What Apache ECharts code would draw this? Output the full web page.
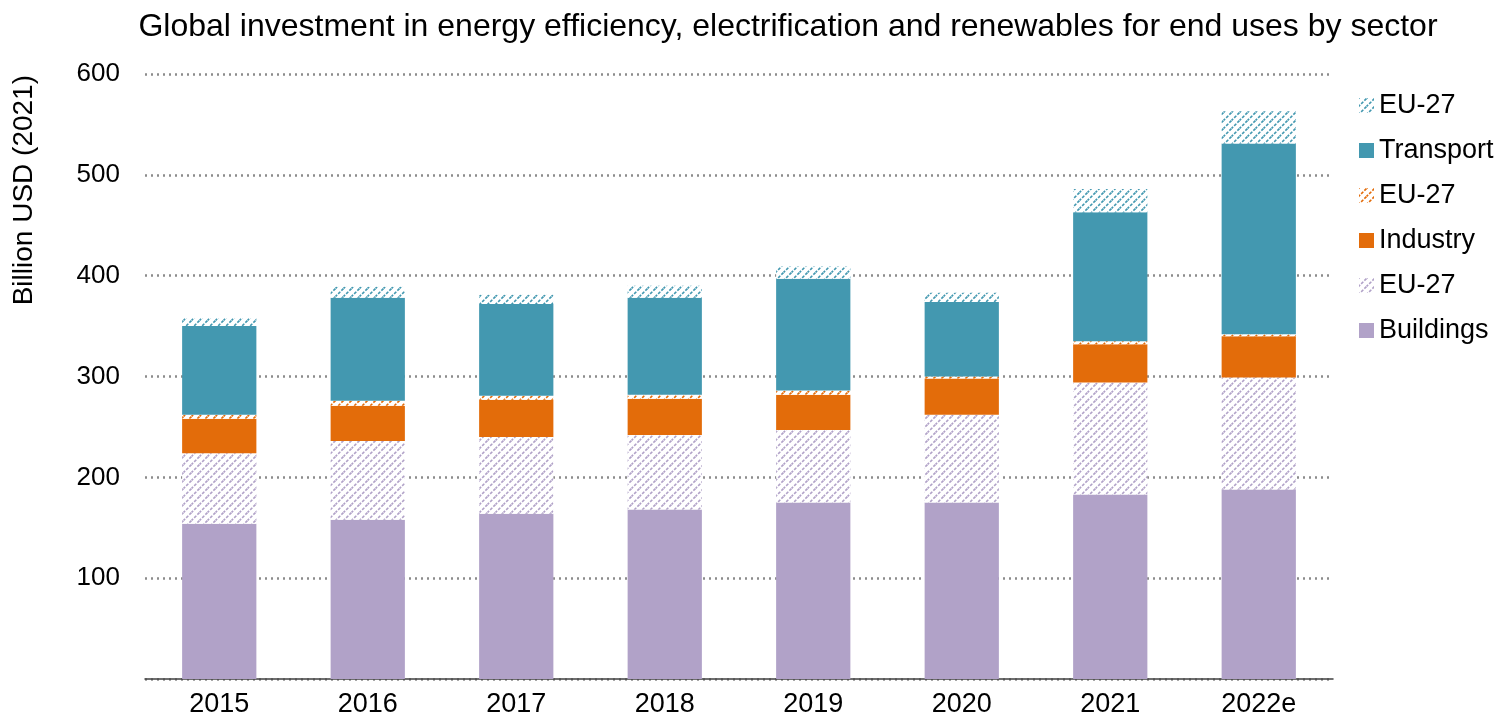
<!DOCTYPE html>
<html>
<head>
<meta charset="utf-8">
<script src="https://cdn.jsdelivr.net/npm/echarts@6/dist/echarts.min.js"></script>
<style>
  html, body { margin: 0; padding: 0; background: #fff; }
  #chart { width: 1500px; height: 718px; }
</style>
</head>
<body>
<div id="chart"></div>
<script>
  const years = ['2015', '2016', '2017', '2018', '2019', '2020', '2021', '2022e']
  const buildings = [154, 158, 164, 168, 175, 175, 183, 188]
  const buildingsEU = [70, 78, 76, 74, 72, 87, 111, 111]
  const industry = [34, 35, 37, 36, 35, 36, 38, 41]
  const industryEU = [4, 5, 4, 4, 4, 2, 3, 2]
  const transport = [88, 102, 91, 96, 111, 74, 128, 189]
  const transportEU = [8, 11, 9, 12, 12, 9, 23, 32]
  const yTicks = [0, 100, 200, 300, 400, 500, 600]

  const purple = '#b1a2c8'
  const orange = '#e36c0a'
  const teal = '#4398b0'

  // diagonal dashed hatch used for the EU-27 parts
  function hatch(color) {
    const c = document.createElement('canvas')
    c.width = 8
    c.height = 8
    const ctx = c.getContext('2d')
    ctx.fillStyle = '#fff'
    ctx.fillRect(0, 0, 8, 8)
    ctx.strokeStyle = color
    ctx.lineWidth = 1.6
    ctx.setLineDash([3, 1.5])
    ctx.beginPath()
    ctx.moveTo(-1, 9); ctx.lineTo(9, -1)
    ctx.moveTo(-1, 1); ctx.lineTo(1, -1)
    ctx.moveTo(7, 9); ctx.lineTo(9, 7)
    ctx.stroke()
    return { image: c, repeat: 'repeat' }
  }

  const chart = echarts.init(document.getElementById('chart'))

  function bar(name, data, color) {
    return {
      name: name,
      type: 'bar',
      stack: 'total',
      barWidth: '50%',
      itemStyle: { color: color },
      emphasis: { disabled: true },
      data: data
    }
  }

  chart.setOption({
    backgroundColor: '#fff',
    animation: false,
    textStyle: { fontFamily: 'Liberation Sans, Arial, sans-serif' },
    title: {
      text: 'Global investment in energy efficiency, electrification and renewables for end uses by sector',
      left: 783,
      textAlign: 'center',
      top: 6,
      textStyle: { fontSize: 32, fontWeight: 'normal', color: '#000' }
    },
    grid: {
      left: 145,
      right: 167,
      top: 74,
      bottom: 38,
      containLabel: false
    },
    legend: {
      orient: 'vertical',
      left: 1354,
      top: 87,
      itemWidth: 15,
      itemHeight: 15,
      itemGap: 18,
      icon: 'rect',
      data: ['EU-27 (transport)', 'Transport', 'EU-27 (industry)', 'Industry', 'EU-27 (buildings)', 'Buildings'],
      formatter: name => name.indexOf('EU-27') === 0 ? 'EU-27' : name,
      textStyle: { fontSize: 27, color: '#000' }
    },
    graphic: [{
      type: 'text',
      left: 10,
      top: 75,
      rotation: Math.PI / 2,
      style: {
        text: 'Billion USD (2021)',
        fontSize: 28,
        fill: '#000',
        fontFamily: 'Liberation Sans, Arial, sans-serif'
      }
    }],
    xAxis: {
      type: 'category',
      data: years,
      axisLine: { lineStyle: { color: '#404040', width: 1.5 } },
      axisTick: { show: false },
      axisLabel: { fontSize: 27, color: '#000', margin: 12 }
    },
    yAxis: {
      type: 'value',
      min: yTicks[0],
      max: yTicks[yTicks.length - 1],
      interval: 100,
      axisLine: { show: false },
      axisTick: { show: false },
      axisLabel: {
        fontSize: 26,
        color: '#000',
        margin: 25,
        formatter: v => (v === 0 ? '' : String(v))
      },
      splitLine: {
        lineStyle: { color: '#8c8c8c', type: [2, 4], width: 2.5 }
      }
    },
    series: [
      bar('Buildings', buildings, purple),
      bar('EU-27 (buildings)', buildingsEU, hatch(purple)),
      bar('Industry', industry, orange),
      bar('EU-27 (industry)', industryEU, hatch(orange)),
      bar('Transport', transport, teal),
      bar('EU-27 (transport)', transportEU, hatch(teal))
    ]
  })
</script>
</body>
</html>
